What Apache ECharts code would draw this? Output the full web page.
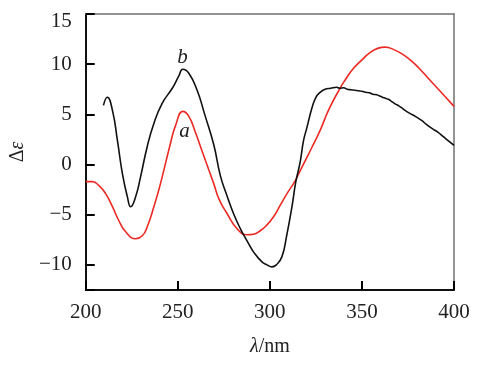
<!DOCTYPE html>
<html>
<head>
<meta charset="utf-8">
<script src="https://cdn.jsdelivr.net/npm/echarts@6/dist/echarts.min.js"></script>
<style>html,body{margin:0;padding:0;background:#fff}#c{width:489px;height:366px}</style>
</head>
<body>
<div id="c"></div>
<script>
// wavelength (nm) and Δε values, curve b (black)
var lambdaB = [209.6,211.7,214.5,217.2,219.9,222.6,224.4,227.1,229.8,233.4,237,241.5,247,250.5,252.7,256,260.5,264.6,269.5,273.1,276.7,280.3,284,287.6,291.5,295.7,298.5,301.1,303.5,306.5,309,312,314,316.5,318.3,320,322.8,325,327.3,330,333,336.3,338,340,342,344,346.3,348,350,352,354,356,358,360,362,364.3,366,368,370,372,373.4,376,379,382.4,385,388,391.4,394,397,400];
var deltaB  = [5.9,6.7,5.4,2.4,-0.9,-3.2,-4.2,-3.2,-1.2,1.8,4.1,6.1,7.6,8.8,9.5,9.1,7.4,5.0,2.0,-1.1,-3.1,-4.9,-6.4,-7.6,-8.8,-9.7,-10.0,-10.2,-10.0,-9.2,-7.2,-4.2,-1.8,0.3,2.4,3.6,5.6,6.7,7.2,7.5,7.6,7.7,7.6,7.65,7.5,7.45,7.4,7.35,7.3,7.2,7.15,7.0,6.95,6.8,6.65,6.5,6.3,6.05,5.85,5.6,5.4,5.1,4.8,4.4,4.0,3.6,3.2,2.8,2.35,1.9];
// curve a (red)
var lambdaA = [200,203.6,207.2,210.8,214.5,218,221.7,227.1,230.7,233.4,237,240.6,246,248.8,252.7,256,259.6,262.3,265,269.5,272.5,276.8,282.2,287.6,291,294.8,298,302,305.5,309.3,313.8,316.5,319.5,322.8,327.3,331.8,338.1,340.8,345,349.9,354,358.9,362.5,367.9,372,377,381,386,390,395,400];
var deltaA  = [-1.7,-1.7,-2.1,-2.9,-4.2,-5.6,-6.7,-7.4,-7.1,-6.2,-4.2,-1.9,2.1,3.9,5.3,4.8,3.2,1.8,0.4,-1.9,-3.5,-4.9,-6.4,-7.0,-6.95,-6.6,-6.1,-5.2,-4.1,-2.9,-1.6,-0.6,0.5,1.7,3.4,5.4,7.6,8.4,9.5,10.4,11.1,11.6,11.7,11.4,11.0,10.3,9.6,8.6,7.8,6.8,5.8];
// curve tags
var tagB = {text:'b', at:[252.5,10.7]};
var tagA = {text:'a', at:[253.6,3.3]};
// axis ticks
var xTicks = [200,250,300,350,400];
var yTicks = [-10,-5,0,5,10,15];
var xMin = 200, xMax = 400, yMin = -12.5, yMax = 15;

function pairs(xs, ys){ return xs.map(function(x,i){ return [x, ys[i]]; }); }
var serif = '"Liberation Serif","DejaVu Serif",serif';
var frame = {show:true,onZero:false,lineStyle:{color:'#707070',width:1.5}};

var chart = echarts.init(document.getElementById('c'));
chart.setOption({
  animation:false,
  grid:{left:85,right:35,top:14,bottom:76},
  xAxis:[{type:'value',min:xMin,max:xMax,interval:50,
    name:'{i|λ}{r|/nm}',nameLocation:'middle',nameGap:47,
    nameTextStyle:{rich:{i:{fontFamily:serif,fontStyle:'italic',fontSize:20,color:'#222'},r:{fontFamily:serif,fontSize:20,color:'#222'}}},
    axisLine:{show:true,onZero:false,lineStyle:{color:'#111',width:2}},
    axisTick:{show:true,inside:true,length:9,lineStyle:{color:'#000',width:2}},
    axisLabel:{fontFamily:serif,fontSize:21,color:'#222',margin:12},
    splitLine:{show:false}},
   {type:'value',position:'top',min:xMin,max:xMax,interval:50,
    axisLine:frame,axisTick:{show:false},axisLabel:{show:false},splitLine:{show:false}}],
  yAxis:[{type:'value',min:yMin,max:yMax,
    name:'{r|Δ}{i|ε}',nameLocation:'middle',nameGap:50,nameRotate:90,
    nameTextStyle:{rich:{i:{fontFamily:serif,fontStyle:'italic',fontSize:20,color:'#222'},r:{fontFamily:serif,fontSize:20,color:'#222'}}},
    axisLine:{show:true,onZero:false,lineStyle:{color:'#111',width:2}},
    axisTick:{show:true,inside:true,length:9,lineStyle:{color:'#000',width:2}},
    axisLabel:{fontFamily:serif,fontSize:21,color:'#222',margin:14,
      formatter:function(v){
        if(v===yMin) return '';
        var s = String(v).replace('-','\u2212');
        return v===yMax ? '{t|'+s+'}' : s;
      },
      rich:{t:{fontFamily:serif,fontSize:21,color:'#222',padding:[14,0,0,0]}}},
    splitLine:{show:false}},
   {type:'value',position:'right',min:yMin,max:yMax,
    axisLine:frame,axisTick:{show:false},axisLabel:{show:false},splitLine:{show:false}}],
  series:[
    {type:'line',data:pairs(lambdaA,deltaA),smooth:0.5,showSymbol:false,lineStyle:{color:'#ec2a24',width:1.6},
     markPoint:{symbol:'circle',symbolSize:0,data:[{coord:tagA.at,value:tagA.text}],
       label:{show:true,position:'inside',formatter:tagA.text,fontFamily:serif,fontStyle:'italic',fontSize:21,color:'#222'}}},
    {type:'line',data:pairs(lambdaB,deltaB),smooth:0.5,showSymbol:false,lineStyle:{color:'#111',width:1.6},
     markPoint:{symbol:'circle',symbolSize:0,data:[{coord:tagB.at,value:tagB.text}],
       label:{show:true,position:'inside',formatter:tagB.text,fontFamily:serif,fontStyle:'italic',fontSize:21,color:'#222'}}}
  ]
});
</script>
</body>
</html>
